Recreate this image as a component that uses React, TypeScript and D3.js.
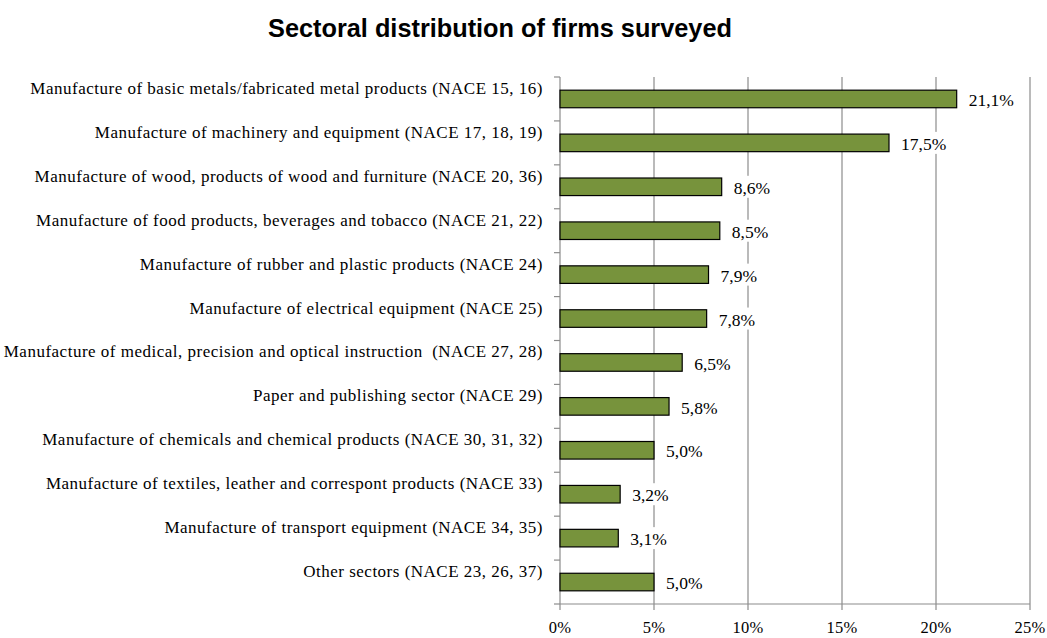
import React from "react";
import * as d3 from "d3";

const categories: string[] = [
  "Manufacture of basic metals/fabricated metal products (NACE 15, 16)",
  "Manufacture of machinery and equipment (NACE 17, 18, 19)",
  "Manufacture of wood, products of wood and furniture (NACE 20, 36)",
  "Manufacture of food products, beverages and tobacco (NACE 21, 22)",
  "Manufacture of rubber and plastic products (NACE 24)",
  "Manufacture of electrical equipment (NACE 25)",
  "Manufacture of medical, precision and optical instruction  (NACE 27, 28)",
  "Paper and publishing sector (NACE 29)",
  "Manufacture of chemicals and chemical products (NACE 30, 31, 32)",
  "Manufacture of textiles, leather and correspont products (NACE 33)",
  "Manufacture of transport equipment (NACE 34, 35)",
  "Other sectors (NACE 23, 26, 37)",
];

const shares: number[] = [21.1, 17.5, 8.6, 8.5, 7.9, 7.8, 6.5, 5.8, 5.0, 3.2, 3.1, 5.0];

const xTicks: number[] = [0, 5, 10, 15, 20, 25];

const title = "Sectoral distribution of firms surveyed";

const W = 1047;
const H = 638;
const left = 560;
const right = 1030;
const top = 77;
const bottom = 604;

const serif = "'Liberation Serif', 'Times New Roman', serif";

export default function App() {
  const x = d3.scaleLinear().domain([0, 25]).range([left, right]);
  const y = d3
    .scaleBand<string>()
    .domain(categories)
    .range([top, bottom])
    .paddingInner(0.6)
    .paddingOuter(0.3);
  const step = y.step();
  const fmt = (v: number) => v.toFixed(1).replace(".", ",") + "%";
  const gridColor = "#8c8c8c";

  return (
    <svg
      width={W}
      height={H}
      style={{ position: "absolute", left: 0, top: 0, background: "#fff" }}
    >
      <text
        x={500}
        y={37}
        textAnchor="middle"
        fontFamily="'Liberation Sans', Arial, sans-serif"
        fontWeight="bold"
        fontSize={25.3}
        fill="#000"
      >
        {title}
      </text>

      {/* vertical gridlines */}
      {xTicks.slice(1).map((t) => (
        <line
          key={"g" + t}
          x1={x(t)}
          x2={x(t)}
          y1={top}
          y2={bottom}
          stroke={gridColor}
          strokeWidth={1.2}
        />
      ))}

      {/* axes */}
      <line x1={left} x2={left} y1={top} y2={bottom} stroke={gridColor} strokeWidth={1.2} />
      <line x1={left} x2={right} y1={bottom} y2={bottom} stroke={gridColor} strokeWidth={1.2} />
      {categories.map((c, i) => (
        <line
          key={"yt" + i}
          x1={left - 6}
          x2={left}
          y1={top + i * step}
          y2={top + i * step}
          stroke={gridColor}
          strokeWidth={1.2}
        />
      ))}
      <line x1={left - 6} x2={left} y1={bottom} y2={bottom} stroke={gridColor} strokeWidth={1.2} />
      {xTicks.map((t) => (
        <line
          key={"xt" + t}
          x1={x(t)}
          x2={x(t)}
          y1={bottom}
          y2={bottom + 6}
          stroke={gridColor}
          strokeWidth={1.2}
        />
      ))}

      {/* bars */}
      {categories.map((c, i) => (
        <rect
          key={"b" + i}
          x={x(0)}
          y={y(c)!}
          width={x(shares[i]) - x(0)}
          height={y.bandwidth()}
          fill="#77933C"
          stroke="#000"
          strokeWidth={1.2}
        />
      ))}

      {/* value labels on white backing */}
      {categories.map((c, i) => {
        const lx = x(shares[i]) + 12;
        const cy = y(c)! + y.bandwidth() / 2;
        return (
          <g key={"v" + i}>
            <rect x={lx - 2} y={cy - 11} width={50} height={22} fill="#fff" />
            <text
              x={lx}
              y={cy + 1}
              dy="0.35em"
              fontFamily={serif}
              fontSize={17.5}
              fill="#000"
            >
              {fmt(shares[i])}
            </text>
          </g>
        );
      })}

      {/* category labels */}
      {categories.map((c, i) => (
        <text
          key={"c" + i}
          x={543}
          y={top + (i + 0.5) * step - 5}
          textAnchor="end"
          fontFamily={serif}
          fontSize={17}
          letterSpacing={0.5}
          fill="#000"
          style={{ whiteSpace: "pre" }}
        >
          {c}
        </text>
      ))}

      {/* x tick labels */}
      {xTicks.map((t) => (
        <text
          key={"xl" + t}
          x={x(t)}
          y={633}
          textAnchor="middle"
          fontFamily={serif}
          fontSize={16.5}
          letterSpacing={0.3}
          fill="#000"
        >
          {t + "%"}
        </text>
      ))}
    </svg>
  );
}
